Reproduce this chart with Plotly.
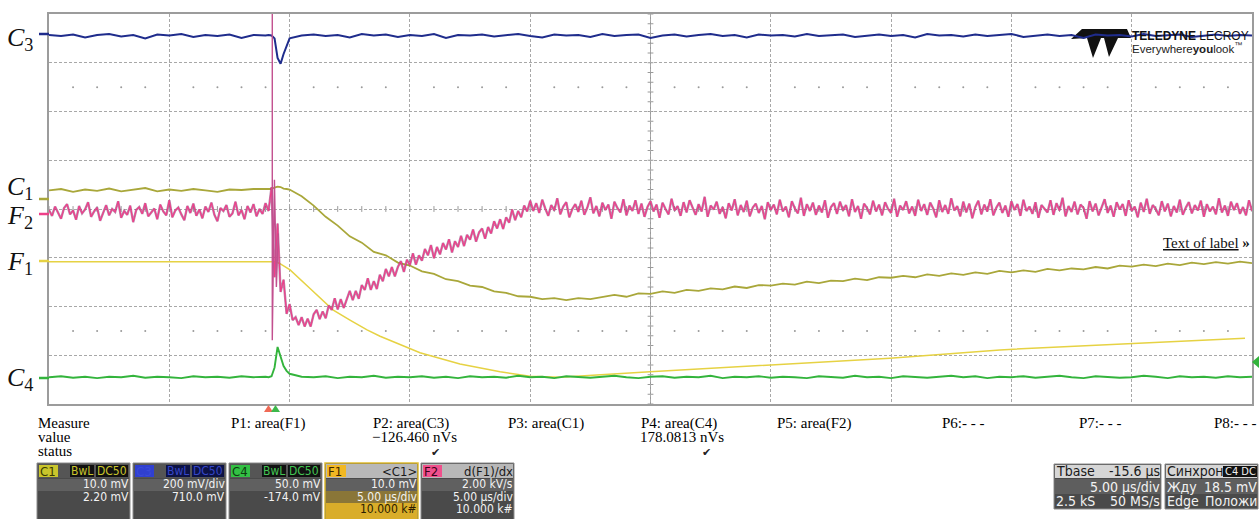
import plotly.graph_objects as go

W, H = 1259, 519
X0, X1, Y0, Y1 = 49, 1252, 14, 404   # plot frame in page pixels

# ---------------- data (x in µs, y in screen divisions 0..8) ----------------
T_START = -9.4          # left edge (Tbase -15.6 µs, 5 µs/div, 10 div)
T_END = 40.6
DT_F2 = 0.125           # sample spacing used for F2
DT_CH = 0.5             # coarse sample spacing used for C1, C3, C4
FINE_START = -0.275     # finer sampling of C1/C3/C4 around the trigger
DT_FINE = 0.125

F2_V = [3.98,3.86,4.05,3.93,3.80,4.02,4.10,3.89,3.97,3.78,
        4.06,3.91,3.99,4.14,3.84,3.95,4.03,3.76,3.92,4.08,
        3.87,4.00,3.94,4.16,3.82,3.96,3.88,4.07,3.73,3.98,
        4.04,3.90,4.12,3.85,3.93,4.01,3.79,4.09,3.95,3.87,
        4.18,3.83,3.97,4.03,3.89,3.77,4.06,3.92,4.11,3.86,
        3.99,3.81,4.05,3.94,4.13,3.88,3.75,4.02,3.96,4.08,
        3.84,3.91,4.15,3.87,3.98,3.79,4.06,3.93,4.10,3.85,
        4.00,3.90,4.12,3.96,
        4.45,2.60,3.70,2.30,2.55,1.85,2.05,1.72,
        1.78,1.62,1.78,1.59,1.75,1.59,1.84,1.93,1.74,1.90,
        1.76,2.02,1.93,2.17,1.94,2.15,1.97,2.17,2.32,2.13,
        2.32,2.16,2.44,2.34,2.58,2.34,2.52,2.36,2.65,2.52,
        2.77,2.62,2.81,2.62,2.81,2.93,2.71,2.96,2.85,3.09,
        2.86,3.05,2.94,3.18,3.05,3.26,2.99,3.22,3.07,3.30,
        3.17,3.38,3.11,3.34,3.22,3.45,3.24,3.47,3.37,3.58,
        3.33,3.52,3.60,3.39,3.63,3.50,3.75,3.60,3.79,3.59,
        3.83,3.72,3.99,3.77,3.96,3.83,4.07,3.95,4.17,3.96,
        4.12,3.92,4.19,4.01,3.86,4.08,3.97,4.22,3.89,4.05,
        4.14,3.83,4.00,4.10,3.94,4.17,3.88,4.03,4.24,3.91,
        4.06,3.85,4.13,3.98,4.09,3.80,4.15,4.02,3.93,4.20,
        3.87,4.07,3.96,4.18,3.90,4.11,3.84,4.04,4.16,3.95,
        4.09,3.82,4.13,4.00,3.89,4.21,3.97,4.06,3.86,4.14,
        3.93,4.18,4.02,3.88,4.10,3.95,4.25,3.84,4.07,3.99,
        4.15,3.90,4.04,3.81,4.12,3.97,4.20,3.87,4.08,3.94,
        4.17,3.85,4.03,4.11,3.92,4.06,3.79,4.14,3.98,4.09,
        3.89,4.19,3.95,4.05,3.83,4.16,4.01,3.91,4.23,3.86,
        4.10,3.96,4.13,3.88,4.07,3.93,4.18,3.82,4.04,4.12,
        3.90,4.15,3.97,4.08,3.85,4.20,3.94,4.06,3.80,4.11,
        4.02,3.89,4.17,3.95,4.09,3.87,4.14,4.00,3.92,4.21,
        3.84,4.07,3.98,4.16,3.91,4.05,3.86,4.19,3.96,4.10,
        3.88,4.13,4.01,3.83,4.18,3.94,4.08,3.90,4.22,3.97,
        4.06,3.85,4.15,3.93,4.11,3.81,4.04,4.17,3.89,4.09,
        3.95,4.20,3.87,4.03,4.13,3.92,4.07,3.84,4.16,3.98,
        4.10,3.86,4.19,3.96,4.05,3.90,4.14,3.82,4.08,4.01,
        3.93,4.18,3.88,4.12,3.97,4.23,3.85,4.06,3.94,4.15,
        3.89,4.09,4.02,3.80,4.16,3.95,4.11,3.87,4.04,4.20,
        3.92,4.07,3.84,4.14,3.99,4.10,3.86,4.18,3.96,4.05,
        3.83,4.13,3.94,4.21,3.90,4.08,4.00,3.87,4.16,3.95,
        4.11,3.85,4.06,3.93,4.19,3.88,4.03,4.14,3.91,4.08,
        3.97,4.17,3.84,4.10,3.95,4.05,3.89,4.22,3.93,4.07,
        3.86,4.15,3.98,4.12,3.90,4.04,3.87,4.18,3.96]

F2_SPIKE_T = [-0.12, -0.12, -0.03, 0.05, 0.13]
F2_SPIKE_V = [8.30, 1.31, 4.60, 2.40, 3.50]

C1_V = [4.38,4.41,4.35,4.40,4.37,4.42,4.36,4.39,4.43,4.36,
        4.40,4.37,4.41,4.38,4.35,4.40,4.39,4.41,4.40,
        4.40,4.41,4.44,4.46,4.45,4.42,4.41,
        4.40,4.26,
        4.07,3.84,3.66,3.44,3.31,3.12,3.05,2.90,2.84,2.72,
        2.67,2.56,2.52,2.43,2.40,2.31,2.28,2.21,2.20,2.15,
        2.17,2.13,2.17,2.15,
        2.19,2.24,2.20,2.27,2.26,2.31,2.28,2.34,2.32,2.37,
        2.35,2.41,2.38,2.44,2.43,2.47,2.45,2.51,2.48,2.53,
        2.52,2.57,2.54,2.60,2.59,2.63,2.60,2.66,2.63,2.68,
        2.65,2.70,2.67,2.73,2.70,2.74,2.71,2.77,2.74,2.78,
        2.76,2.81,2.78,2.84,2.82,2.86,2.83,2.88,2.85,2.90,
        2.87,2.91,2.88,2.92,2.89]

C3_V = [7.57,7.55,7.58,7.52,7.57,7.59,7.54,7.57,7.50,7.58,
        7.56,7.59,7.53,7.57,7.55,7.58,7.51,7.57,7.56,
        7.57,7.56,7.50,7.10,6.98,7.18,7.36,
        7.50,7.56,
        7.58,7.55,7.57,7.52,7.59,7.56,7.58,7.53,7.57,7.55,
        7.59,7.51,7.57,7.56,7.58,7.54,7.57,7.59,7.55,7.52,
        7.58,7.56,7.57,7.53,7.59,7.55,7.57,7.58,7.51,7.56,
        7.58,7.54,7.57,7.59,7.55,7.57,7.52,7.58,7.56,7.57,
        7.54,7.59,7.55,7.57,7.58,7.53,7.56,7.58,7.55,7.57,
        7.52,7.59,7.56,7.57,7.54,7.58,7.55,7.57,7.59,7.53,
        7.56,7.58,7.55,7.57,7.51,7.58,7.56,7.57,7.54,7.59,
        7.55,7.57,7.58,7.53,7.56,7.58,7.55,7.57,7.56]

C4_V = [0.55,0.57,0.54,0.56,0.53,0.56,0.55,0.58,0.54,0.56,
        0.55,0.53,0.57,0.55,0.56,0.54,0.57,0.55,0.56,
        0.55,0.57,0.75,1.17,0.95,0.78,0.68,
        0.62,0.56,
        0.55,0.57,0.53,0.56,0.55,0.58,0.54,0.56,0.55,0.57,
        0.54,0.56,0.53,0.57,0.55,0.56,0.54,0.58,0.55,0.56,
        0.53,0.57,0.55,0.54,0.56,0.58,0.55,0.53,0.56,0.57,
        0.54,0.56,0.55,0.58,0.53,0.56,0.55,0.57,0.54,0.56,
        0.55,0.53,0.57,0.56,0.54,0.58,0.55,0.56,0.53,0.57,
        0.55,0.54,0.56,0.58,0.55,0.57,0.53,0.56,0.55,0.57,
        0.54,0.56,0.58,0.55,0.53,0.57,0.56,0.54,0.55,0.58,
        0.56,0.53,0.57,0.55,0.56,0.54,0.57,0.55,0.56]

F1_T = [-9.4, 0.0, 0.2, 0.62, 1.45, 2.40, 3.11, 3.82, 4.36, 6.02,
        7.68, 9.35, 10.59, 11.84, 15.58, 20.57, 25.55, 30.12, 35.53, 40.31]
F1_V = [2.92, 2.92, 2.88, 2.75, 2.37, 1.93, 1.72, 1.52, 1.39, 1.05,
        0.82, 0.66, 0.57, 0.55, 0.66, 0.80, 0.94, 1.11, 1.23, 1.35]

COL = dict(C1="#a9a73a", C3="#1f2c8c", C4="#33b43c", F1="#e6d243", F2="#ef3f89")

# left labels: (letter, index, text centre y px, marker y px, colour)
LABELS = [("C", "3", 39, 34, COL["C3"]), ("C", "1", 188, 199, COL["C1"]),
          ("F", "2", 217, 214, COL["F2"]), ("F", "1", 263, 261, COL["F1"]),
          ("C", "4", 379, 378, COL["C4"])]

MEAS_NAMES = ["P1: area(F1)", "P2: area(C3)", "P3: area(C1)", "P4: area(C4)",
              "P5: area(F2)", "P6:- - -", "P7:- - -", "P8:- - -"]
MEAS_X = [231, 373, 508, 641, 777, 942, 1079, 1214]
MEAS_VALUES = {"P2": ("\u2212126.460 nVs", 414, 435), "P4": ("178.0813 nVs", 682, 706)}

# ---------------- figure ----------------
t_f2 = [round(T_START + DT_F2 * i, 4) for i in range(len(F2_V))]
t_ch = ([round(T_START + DT_CH * k, 4) for k in range(19)]
        + [round(FINE_START + DT_FINE * j, 4) for j in range(7)]
        + [round(0.6 + DT_CH * k, 4) for k in range(81)])

def px(x): return x / W
def py(y): return 1 - y / H

SERIF = "Liberation Serif, Times New Roman, serif"
NARROW = "Liberation Sans Narrow, DejaVu Sans Condensed, Arial Narrow, sans-serif"
SANS = "Liberation Sans, Arial, sans-serif"

fig = go.Figure()
line_tr = lambda x, y, c, w, name: go.Scatter(x=x, y=y, mode="lines", line=dict(color=c, width=w),
                                               name=name, hoverinfo="skip", showlegend=False)
fig.add_trace(line_tr(t_ch, C3_V, COL["C3"], 2.0, "C3"))
fig.add_trace(line_tr(t_ch, C1_V, COL["C1"], 1.8, "C1"))
fig.add_trace(line_tr(F1_T, F1_V, COL["F1"], 1.5, "F1"))
fig.add_trace(line_tr(t_ch, C4_V, COL["C4"], 1.9, "C4"))
fig.add_trace(line_tr(t_f2, F2_V, "rgba(140,60,120,0.6)", 2.4, "F2s"))
fig.add_trace(line_tr(t_f2, F2_V, COL["F2"], 1.2, "F2"))
fig.add_trace(line_tr(F2_SPIKE_T, F2_SPIKE_V, "#c2508f", 1.4, "F2spike"))

# dotted minor rows
dot_x = [T_START + k for k in range(1, 50) if k % 5]
fig.add_trace(go.Scatter(x=dot_x * 2, y=[6.5] * len(dot_x) + [1.5] * len(dot_x), mode="markers",
                         marker=dict(size=2, color="#9a9a9a"), hoverinfo="skip", showlegend=False))

shapes, ann = [], []
tc = T_START + 25.0
shapes.append(dict(type="line", xref="x", yref="y", x0=tc, x1=tc, y0=0, y1=8,
                   line=dict(color="#9a9a9a", width=1), layer="below"))
for k in range(41):
    shapes.append(dict(type="line", xref="x", yref="y", x0=tc - 0.12, x1=tc + 0.12, y0=k * 0.2, y1=k * 0.2,
                       line=dict(color="#9a9a9a", width=1), layer="below"))
for k in range(51):
    shapes.append(dict(type="line", xref="x", yref="y", x0=T_START + k, x1=T_START + k, y0=3.94, y1=4.06,
                       line=dict(color="#9a9a9a", width=1), layer="below"))

def rect(x0, y0, x1, y1, fill, line=None, lw=1):
    shapes.append(dict(type="rect", xref="paper", yref="paper", x0=px(x0), x1=px(x1), y0=py(y1), y1=py(y0),
                       fillcolor=fill, line=dict(color=line if line else fill, width=lw if line else 0),
                       layer="above"))

def path(points, fill, layer="above"):
    d = "M " + " L ".join(f"{px(a):.5f},{py(b):.5f}" for a, b in points) + " Z"
    shapes.append(dict(type="path", xref="paper", yref="paper", path=d, fillcolor=fill,
                       line=dict(width=0), layer=layer))

def text(x, y, s, size=14, color="#000", anchor="left", family=SERIF):
    ann.append(dict(xref="paper", yref="paper", x=px(x), y=py(y), text=s, showarrow=False,
                    xanchor=anchor, yanchor="middle", borderpad=0, borderwidth=0,
                    font=dict(size=size, color=color, family=family)))

# left labels and markers
for letter, idx, ty, my, c in LABELS:
    text(7, ty, f"<i>{letter}</i><sub>{idx}</sub>", 26, "#111")
    shapes.append(dict(type="line", xref="paper", yref="paper", x0=px(39), x1=px(49), y0=py(my), y1=py(my),
                       line=dict(color=c, width=2.5)))

# logo
path([(1071, 39), (1082, 29), (1127, 29), (1131, 38), (1118, 38), (1109, 57), (1104, 38),
      (1101, 38), (1093, 58), (1087, 38)], "#111", layer="below")
text(1132, 36, "<b>TELEDYNE</b> LECROY", 12, "#111", family=SANS)
text(1132, 48, "Everywhere<b>you</b>look<sup>™</sup>", 11.5, "#222", family=SANS)

text(1250, 243, "<u>Text of label</u> <b>»</b>", 15, "#111", anchor="right")

# trigger markers
path([(264, 412), (268.5, 405), (273, 412)], "#f06a55")
path([(271, 412), (275.5, 405), (280, 412)], "#3cb84a")
path([(1259, 356), (1252, 362), (1259, 368)], COL["C4"])

# measurement table
text(38, 423, "Measure", 15)
text(38, 437, "value", 15)
text(38, 451, "status", 15)
for name, x in zip(MEAS_NAMES, MEAS_X):
    text(x, 423, name, 15)
for key, (val, cx, chk) in MEAS_VALUES.items():
    text(cx, 437, val, 15, anchor="center")
    text(chk, 452, "✔", 11, "#222", anchor="center", family="DejaVu Sans")

# channel boxes
BOXES = [
    dict(x=37, chip="C1", chipbg="#c9c52c", chipfg="#3a3a00", tags=["BwL", "DC50"], tagbg="#111", tagfg="#c9c52c",
         rows=["10.0 mV", "2.20 mV"]),
    dict(x=133, chip="C3", chipbg="#3040d0", chipfg="#3a4ad8", tags=["BwL", "DC50"], tagbg="#0c1245", tagfg="#3646c8",
         rows=["200 mV/div", "710.0 mV"]),
    dict(x=229, chip="C4", chipbg="#33c044", chipfg="#0e3a10", tags=["BwL", "DC50"], tagbg="#111", tagfg="#44c454",
         rows=["50.0 mV", "-174.0 mV"]),
    dict(x=325, chip="F1", chipbg="#f2b822", chipfg="#3a2600", head="<C1>",
         rows=["10.0 mV", "5.00 µs/div", "10.000 k#"], sel=True),
    dict(x=421, chip="F2", chipbg="#f0508c", chipfg="#3a0018", head="d(F1)/dx",
         rows=["2.00 kV/s", "5.00 µs/div", "10.000 k#"]),
]
for b in BOXES:
    x0, x1 = b["x"], b["x"] + 93
    sel = b.get("sel", False)
    rect(x0, 463, x1, 520, "#4a4a4a", "#e0bc30" if sel else "#8c8c8c", 1.5 if sel else 1)
    rect(x0 + 1, 464, x1 - 1, 478, "#b8b8b8" if "head" in b else "#555555")
    rect(x0 + 1, 479, x1 - 1, 491, "#606060")
    if sel:
        rect(x0 + 1, 491, x1 - 1, 503, "#8a7638")
        rect(x0 + 1, 503, x1 - 1, 520, "#d9ad2a")
    rect(x0 + 2, 465, x0 + 21, 477, b["chipbg"])
    text(x0 + 3, 471, b["chip"], 13, b["chipfg"], family=NARROW)
    if "tags" in b:
        rect(x0 + 33, 465, x0 + 57, 477, b["tagbg"])
        text(x0 + 45, 471, b["tags"][0], 12, b["tagfg"], "center", NARROW)
        rect(x0 + 59, 465, x0 + 91, 477, b["tagbg"])
        text(x0 + 75, 471, b["tags"][1], 12, b["tagfg"], "center", NARROW)
    else:
        text(x1 - 1, 471, b["head"], 13, "#1a1a1a", "right", NARROW)
    for j, r in enumerate(b["rows"]):
        col = "#2a1c00" if (sel and j == 2) else "#f2f2f2"
        text(x1 - 1, 484 + 12.5 * j, r, 12, col, "right", NARROW)

# timebase / trigger boxes
for x0, x1, head_l, head_r, rows in [
        (1054, 1161, "Tbase", "-15.6 µs", [("", "5.00 µs/div"), ("2.5 kS", "50 MS/s")]),
        (1165, 1258, "Синхрон", None, [("Жду", "18.5 mV"), ("Edge", "Положи")])]:
    rect(x0, 464, x1, 509, "#4a4a4a", "#8c8c8c", 1)
    rect(x0 + 1, 465, x1 - 1, 478, "#d6d6d6")
    rect(x0 + 1, 479, x1 - 1, 494, "#5e5e5e")
    text(x0 + 2, 471, head_l, 14, "#1a1a1a", family=NARROW)
    if head_r:
        text(x1 - 1, 471, head_r, 14, "#1a1a1a", "right", NARROW)
    else:
        rect(x1 - 35, 466, x1 - 1, 477, "#111")
        text(x1 - 18, 471.5, "C4 DC", 11, "#f0f0f0", "center", NARROW)
    for j, (l, r) in enumerate(rows):
        if l:
            text(x0 + 2, 487 + 14 * j, l, 14, "#f2f2f2", family=NARROW)
        text(x1 - 1, 487 + 14 * j, r, 14, "#f2f2f2", "right", NARROW)

grid = dict(showgrid=True, gridcolor="#a8a8a8", gridwidth=1, griddash="3px,2px", zeroline=False,
            showticklabels=False, ticks="", showline=True, linecolor="#9c9c9c", linewidth=1.5, mirror=True,
            fixedrange=True)
fig.update_layout(
    width=W, height=H, margin=dict(l=0, r=0, t=0, b=0, autoexpand=False),
    paper_bgcolor="white", plot_bgcolor="rgba(0,0,0,0)", showlegend=False,
    xaxis=dict(domain=[X0 / W, X1 / W], range=[T_START, T_END], tick0=T_START, dtick=5, **grid),
    yaxis=dict(domain=[(H - Y1) / H, (H - Y0) / H], range=[0, 8], tick0=0, dtick=1, **grid),
    shapes=shapes, annotations=ann,
)
fig.write_html("out.html")
